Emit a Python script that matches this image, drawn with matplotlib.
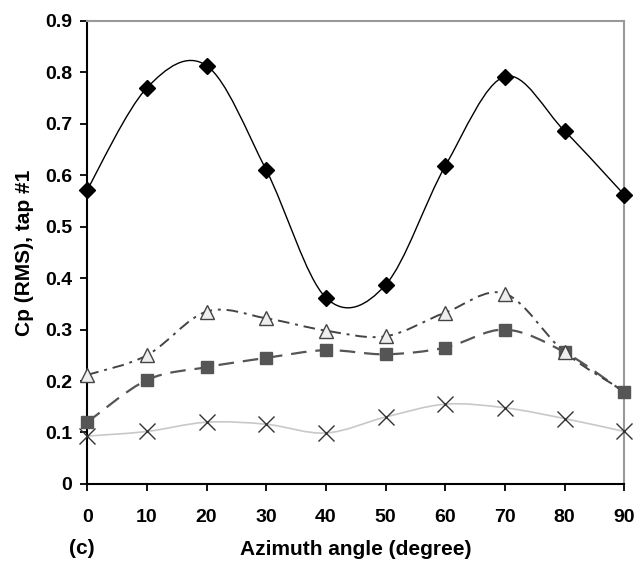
import numpy as np
import matplotlib.pyplot as plt
from matplotlib.path import Path
from matplotlib.patches import PathPatch

plt.rcParams['font.family'] = ['Liberation Sans', 'DejaVu Sans']

# Azimuth angles and RMS pressure coefficients for tap #1
angles = [0, 10, 20, 30, 40, 50, 60, 70, 80, 90]
cp_diamond = [0.572, 0.770, 0.813, 0.610, 0.362, 0.387, 0.618, 0.792, 0.686, 0.562]
cp_triangle = [0.212, 0.250, 0.335, 0.322, 0.298, 0.287, 0.333, 0.370, 0.256, 0.180]
cp_square = [0.120, 0.202, 0.227, 0.245, 0.260, 0.252, 0.265, 0.300, 0.256, 0.178]
cp_cross = [0.093, 0.102, 0.120, 0.116, 0.099, 0.130, 0.155, 0.148, 0.127, 0.102]

y_ticks = [0, 0.1, 0.2, 0.3, 0.4, 0.5, 0.6, 0.7, 0.8, 0.9]
y_labels = ['0', '0.1', '0.2', '0.3', '0.4', '0.5', '0.6', '0.7', '0.8', '0.9']


def smooth_path(x, y):
    """Excel-style smoothed line: cubic Bezier through every point."""
    x = np.asarray(x, float)
    y = np.asarray(y, float)
    n = len(x)
    verts = [(x[0], y[0])]
    codes = [Path.MOVETO]
    for i in range(n - 1):
        x0, y0 = (x[i - 1], y[i - 1]) if i > 0 else (x[i], y[i])
        x3, y3 = (x[i + 2], y[i + 2]) if i + 2 < n else (x[i + 1], y[i + 1])
        c1 = (x[i] + (x[i + 1] - x0) / 6, y[i] + (y[i + 1] - y0) / 6)
        c2 = (x[i + 1] - (x3 - x[i]) / 6, y[i + 1] - (y3 - y[i]) / 6)
        verts += [c1, c2, (x[i + 1], y[i + 1])]
        codes += [Path.CURVE4] * 3
    return Path(verts, codes)


fig = plt.figure(figsize=(6.37, 5.66), dpi=100)
ax = fig.add_axes([0.137, 0.145, 0.843, 0.818])

# (values, line style, marker style, which markers to show)
series = [
    (cp_cross, dict(color='#c8c8c8', lw=1.2, ls='-'),
     dict(marker='x', ms=11, mew=1.0, mec='#333333', mfc='none'), None),
    (cp_square, dict(color='#555555', lw=1.6, ls=(0, (7, 4))),
     dict(marker='s', ms=9, mec='#555555', mfc='#555555'), None),
    # the last triangle sits behind the square at 90 deg
    (cp_triangle, dict(color='#444444', lw=1.4, ls=(0, (6, 3, 1.5, 3))),
     dict(marker='^', ms=10, mec='#444444', mfc='#eeeeee', mew=1.0), list(range(9))),
    (cp_diamond, dict(color='black', lw=1.0, ls='-'),
     dict(marker='D', ms=8, mec='black', mfc='black'), None),
]

for vals, line_kw, mark_kw, every in series:
    ax.add_patch(PathPatch(smooth_path(angles, vals), fill=False, **line_kw))
    ax.plot(angles, vals, ls='none', clip_on=False, zorder=3,
            markevery=every, **mark_kw)

ax.set_xlim(0, 90)
ax.set_ylim(0, 0.9)
ax.set_xticks(angles)
ax.set_xticklabels([str(a) for a in angles])
ax.set_yticks(y_ticks)
ax.set_yticklabels(y_labels)

for side in ['top', 'right']:
    ax.spines[side].set_color('#999999')
    ax.spines[side].set_linewidth(1.5)
for side in ['left', 'bottom']:
    ax.spines[side].set_color('black')
    ax.spines[side].set_linewidth(1.5)

ax.tick_params(axis='both', direction='out', length=5, width=1.3,
               labelsize=14, pad=6)
ax.tick_params(axis='x', pad=13)
for lab in ax.get_xticklabels() + ax.get_yticklabels():
    lab.set_fontweight('bold')

ax.set_ylabel('Cp (RMS), tap #1', fontsize=15, fontweight='bold', labelpad=8)
ax.set_xlabel('Azimuth angle (degree)', fontsize=15, fontweight='bold', labelpad=10)
fig.text(0.108, 0.022, '(c)', fontsize=15, fontweight='bold')

fig.savefig('out.png', dpi=100)
